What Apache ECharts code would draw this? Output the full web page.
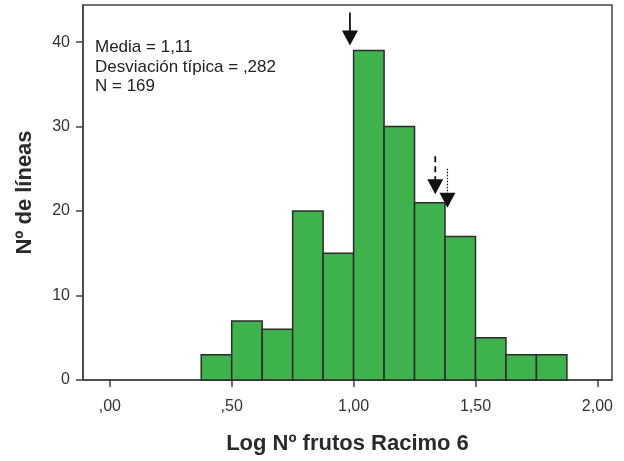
<!DOCTYPE html>
<html>
<head>
<meta charset="utf-8">
<script src="https://cdn.jsdelivr.net/npm/echarts@6/dist/echarts.min.js"></script>
<style>
	html, body { margin: 0; padding: 0; background: #fff; }
	#main { width: 624px; height: 461px; }
</style>
</head>
<body>
<div id="main"></div>
<script>
// bins of width 0.125
var binStarts = [0.375, 0.5, 0.625, 0.75, 0.875, 1.0, 1.125, 1.25, 1.375, 1.5, 1.625, 1.75];
var binWidth = 0.125;
var counts = [3, 7, 6, 20, 15, 39, 30, 21, 17, 5, 3, 3];
var xTicks = [0, 0.5, 1.0, 1.5, 2.0];
var yTicks = [0, 10, 20, 30, 40];
var statLines = ['Media = 1,11', 'Desviación típica = ,282', 'N = 169'];
// arrows: [x, yTop, yTip]
var arrowSolid = [0.985, 43.5, 39.6];
var arrowDashed = [1.335, 26.5, 22.0];
var arrowDotted = [1.385, 25.0, 20.4];

var myChart = echarts.init(document.getElementById('main'));

var barData = [];
for (var i = 0; i < binStarts.length; i++) {
	barData.push([binStarts[i], binStarts[i] + binWidth, counts[i]]);
}

function fmtX(v) {
	var s = v.toFixed(2).replace('.', ',');
	if (s.charAt(0) === '0') s = s.substring(1);
	return s;
}

function arrowLine(a, type) {
	return {
		type: 'custom',
		silent: true,
		z: 5,
		data: [a],
		renderItem: function(params, api) {
			var top = api.coord([api.value(0), api.value(1)]);
			var tip = api.coord([api.value(0), api.value(2)]);
			var headH = 15, headW = 8;
			return {
				type: 'group',
				children: [{
					type: 'line',
					shape: { x1: top[0], y1: top[1], x2: tip[0], y2: tip[1] - headH + 1 },
					style: { stroke: '#111', lineWidth: type === 'dotted' ? 1.2 : 1.8, lineDash: type === 'dashed' ? [6, 4] : (type === 'dotted' ? [1.5, 1.5] : null) }
				}, {
					type: 'polygon',
					shape: { points: [[tip[0] - headW, tip[1] - headH], [tip[0] + headW, tip[1] - headH], [tip[0], tip[1]]] },
					style: { fill: '#111' }
				}]
			};
		}
	};
}

var option = {
	animation: false,
	grid: {
		left: 83, right: 12, top: 5, bottom: 81,
		show: true, borderColor: '#444', borderWidth: 1.5
	},
	xAxis: {
		type: 'value',
		min: -0.11,
		max: 2.06,
		name: 'Log Nº frutos Racimo 6',
		nameLocation: 'middle',
		nameGap: 53,
		nameTextStyle: { fontFamily: 'Liberation Sans', fontWeight: 'bold', fontSize: 22, color: '#2a2a2a' },
		axisLine: { show: true, onZero: false, lineStyle: { color: '#444', width: 1.5 } },
		axisTick: { show: true, length: 7, customValues: xTicks, lineStyle: { color: '#444', width: 1.5 } },
		axisLabel: { customValues: xTicks, formatter: fmtX, margin: 19, fontFamily: 'Liberation Sans', fontSize: 16, color: '#333' },
		splitLine: { show: false }
	},
	yAxis: {
		type: 'value',
		min: 0,
		max: 44.4,
		name: 'Nº de líneas',
		nameLocation: 'middle',
		nameGap: 47,
		nameTextStyle: { fontFamily: 'Liberation Sans', fontWeight: 'bold', fontSize: 22, color: '#2a2a2a' },
		axisLine: { show: true, onZero: false, lineStyle: { color: '#444', width: 1.5 } },
		axisTick: { show: true, length: 7, customValues: yTicks, lineStyle: { color: '#444', width: 1.5 } },
		axisLabel: { customValues: yTicks, margin: 13, fontFamily: 'Liberation Sans', fontSize: 16, color: '#333' },
		splitLine: { show: false }
	},
	graphic: [{
		type: 'text',
		left: 95,
		top: 38,
		style: {
			text: statLines.join('\n'),
			font: '17px "Liberation Sans"',
			lineHeight: 19.5,
			fill: '#222'
		}
	}],
	series: [{
		type: 'custom',
		data: barData,
		encode: { x: [0, 1], y: 2 },
		renderItem: function(params, api) {
			var p0 = api.coord([api.value(0), 0]);
			var p1 = api.coord([api.value(1), api.value(2)]);
			return {
				type: 'rect',
				shape: { x: p0[0], y: p1[1], width: p1[0] - p0[0], height: p0[1] - p1[1] },
				style: { fill: '#3eb24d', stroke: '#2b2b2b', lineWidth: 1.5 }
			};
		}
	}, arrowLine(arrowSolid, 'solid'), arrowLine(arrowDashed, 'dashed'), arrowLine(arrowDotted, 'dotted')]
};

myChart.setOption(option);
</script>
</body>
</html>
